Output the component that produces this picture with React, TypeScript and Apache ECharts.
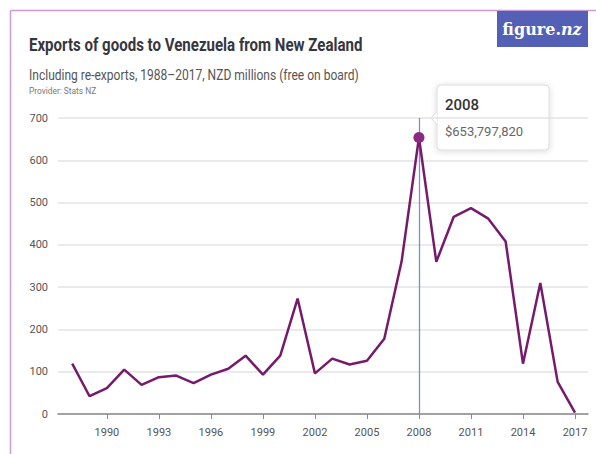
import React, { useEffect, useRef } from "react";
import * as echarts from "echarts";

const years = [1988, 1989, 1990, 1991, 1992, 1993, 1994, 1995, 1996, 1997, 1998, 1999, 2000, 2001, 2002, 2003, 2004, 2005, 2006, 2007, 2008, 2009, 2010, 2011, 2012, 2013, 2014, 2015, 2016, 2017];
const exportsNZD = [119, 42, 61, 105, 69, 87, 91, 73, 93, 107, 138, 93, 138, 273, 96, 131, 117, 126, 178, 361, 653.8, 360, 466, 487, 462, 408, 119, 310, 76, 3];
const xTickYears = [1990, 1993, 1996, 1999, 2002, 2005, 2008, 2011, 2014, 2017];
const highlightYear = 2008;
const highlightLabel = "$653,797,820";

const title = "Exports of goods to Venezuela from New Zealand";
const subtitle = "Including re-exports, 1988–2017, NZD millions (free on board)";
const provider = "Provider: Stats NZ";

export default function App() {
  const ref = useRef<HTMLDivElement>(null);
  useEffect(() => {
    const chart = echarts.init(ref.current!, null, { renderer: "svg" });
    const data = years.map((y, i) =>
      y === highlightYear
        ? { value: [y, exportsNZD[i]], symbol: "circle", symbolSize: 11, itemStyle: { color: "#8b2a85", borderWidth: 0 } }
        : { value: [y, exportsNZD[i]], symbol: "none" }
    );
    const font = "Roboto, 'Noto Sans', sans-serif";
    chart.setOption({
      animation: false,
      backgroundColor: "#ffffff",
      grid: { left: 58, right: 8, top: 118, bottom: 40 },
      xAxis: {
        type: "value",
        min: 1987.18,
        max: 2017.75,
        splitLine: { show: false },
        axisLine: { show: true, lineStyle: { color: "#8a8a8a", width: 1.5 } },
        axisTick: { show: true, customValues: xTickYears, length: 5, lineStyle: { color: "#8a8a8a" } },
        axisLabel: {
          customValues: xTickYears,
          color: "#555",
          fontSize: 11,
          fontFamily: font,
          margin: 13,
          formatter: (v: number) => String(v),
        },
      },
      yAxis: {
        type: "value",
        min: 0,
        max: 700,
        interval: 100,
        axisLine: { show: false },
        axisTick: { show: false },
        axisLabel: { color: "#555", fontSize: 11, fontFamily: font, margin: 10 },
        splitLine: { lineStyle: { color: "#e3e3e6", width: 1.5 } },
      },
      series: [
        {
          type: "line",
          data,
          showSymbol: true,
          symbol: "none",
          lineStyle: { color: "#761b6c", width: 2.5 },
          itemStyle: { color: "#761b6c" },
          z: 3,
          markLine: {
            silent: true,
            symbol: "none",
            label: { show: false },
            lineStyle: { color: "#8484e4", width: 1.3, type: "solid", opacity: 1 },
            emphasis: { disabled: true },
            data: [{ xAxis: highlightYear }],
            z: 2,
          },
        },
      ],
      graphic: [
        { type: "line", shape: { x1: 10.5, y1: 10.5, x2: 10.5, y2: 454 }, style: { stroke: "#c99ad9", lineWidth: 1.5 } },
        { type: "line", shape: { x1: 10.5, y1: 10.5, x2: 596, y2: 10.5 }, style: { stroke: "#c99ad9", lineWidth: 1.5 } },
        { type: "rect", shape: { x: 497, y: 11, width: 91, height: 36 }, style: { fill: "#5360b5" } },
        {
          type: "text",
          x: 542,
          y: 29,
          style: {
            text: "{a|figure.}{b|nz}",
            align: "center",
            verticalAlign: "middle",
            rich: {
              a: { fontFamily: "'DejaVu Serif', serif", fontSize: 16, fill: "#ffffff", fontWeight: "bold" },
              b: { fontFamily: "'DejaVu Serif', serif", fontSize: 16, fill: "#ffffff", fontStyle: "italic", fontWeight: "bold" },
            },
          },
        },
        { type: "text", x: 29, y: 45, scaleX: 0.86, style: { text: title, fontFamily: font, fontSize: 17.5, fontWeight: "bold", fill: "#363640", verticalAlign: "middle" } },
        { type: "text", x: 29, y: 75, scaleX: 0.83, style: { text: subtitle, fontFamily: font, fontSize: 14.5, fill: "#555", verticalAlign: "middle" } },
        { type: "text", x: 29, y: 91, scaleX: 0.88, style: { text: provider, fontFamily: font, fontSize: 9.5, fill: "#777", verticalAlign: "middle" } },
        {
          type: "group",
          z: 100,
          children: [
            {
              type: "rect",
              shape: { x: 437, y: 85, width: 112, height: 65, r: 4 },
              style: { fill: "#ffffff", stroke: "#dcdcdc", lineWidth: 1, shadowBlur: 6, shadowColor: "rgba(0,0,0,0.15)", shadowOffsetY: 1 },
            },
            {
              type: "polygon",
              shape: { points: [[437.5, 111], [431, 118], [437.5, 125]] },
              style: { fill: "#ffffff", stroke: "#dcdcdc", lineWidth: 1 },
            },
            { type: "rect", shape: { x: 437.5, y: 110, width: 2, height: 16 }, style: { fill: "#ffffff" } },
            { type: "text", x: 445, y: 105, style: { text: String(highlightYear), fontFamily: font, fontSize: 15, fontWeight: 500, fill: "#333", verticalAlign: "middle" } },
            { type: "text", x: 445, y: 131, style: { text: highlightLabel, fontFamily: font, fontSize: 13, fill: "#666", verticalAlign: "middle" } },
          ],
        },
      ],
    });
    return () => chart.dispose();
  }, []);
  return <div ref={ref} style={{ position: "fixed", left: 0, top: 0, width: 596, height: 454 }} />;
}
